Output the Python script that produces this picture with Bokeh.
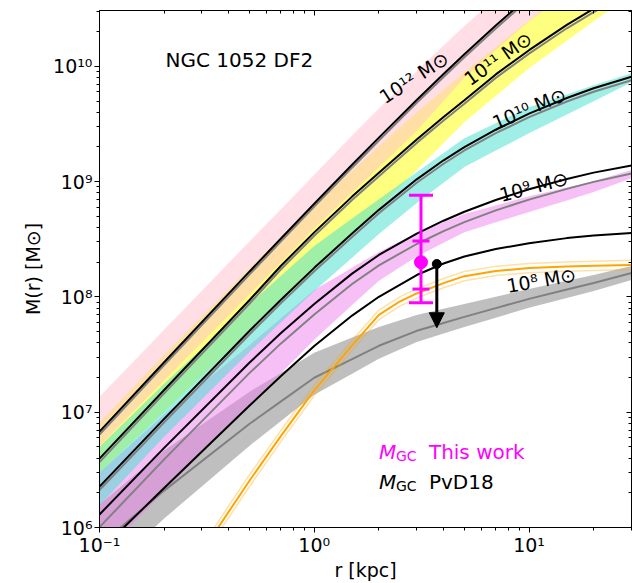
import numpy as np
from bokeh.plotting import figure
from bokeh.models import (Range1d, FixedTicker, CustomJSTickFormatter, LogAxis,
                          Label, Arrow, NormalHead)
from bokeh.embed import file_html
from bokeh.resources import INLINE

# radii (kpc)
r = [0.1, 0.2, 0.5, 0.7, 1, 1.5, 2, 3, 4, 5, 7, 10, 15, 20, 30]

# log10 M(r) of the NFW halos (black lines)
logM_1e12 = [6.831, 7.433, 8.221, 8.507, 8.808, 9.146, 9.382, 9.708, 9.933, 10.104, 10.354, 10.608, 10.881, 11.065, 11.308]
logM_1e11 = [6.597, 7.193, 7.973, 8.270, 8.560, 8.870, 9.077, 9.366, 9.561, 9.706, 9.930, 10.140, 10.360, 10.500, 10.680]
logM_1e10 = [6.355, 6.942, 7.706, 7.976, 8.252, 8.550, 8.755, 9.020, 9.185, 9.300, 9.450, 9.590, 9.725, 9.810, 9.910]
logM_1e9 = [6.113, 6.691, 7.431, 7.687, 7.938, 8.202, 8.364, 8.549, 8.661, 8.739, 8.841, 8.934, 9.022, 9.078, 9.140]
logM_1e8 = [5.795, 6.342, 7.058, 7.314, 7.574, 7.838, 8.001, 8.190, 8.290, 8.350, 8.415, 8.465, 8.510, 8.533, 8.555]

# gray companion profiles
logG_1e12 = [6.806, 7.408, 8.196, 8.482, 8.783, 9.121, 9.357, 9.683, 9.908, 10.079, 10.329, 10.583, 10.856, 11.040, 11.283]
logG_1e11 = [6.567, 7.163, 7.943, 8.240, 8.530, 8.840, 9.047, 9.336, 9.531, 9.676, 9.900, 10.110, 10.330, 10.470, 10.650]
logG_1e10 = [6.325, 6.912, 7.676, 7.946, 8.222, 8.520, 8.725, 8.990, 9.155, 9.270, 9.420, 9.560, 9.695, 9.780, 9.880]
logG_1e9 = [6.003, 6.591, 7.341, 7.597, 7.848, 8.112, 8.274, 8.459, 8.571, 8.649, 8.751, 8.844, 8.937, 8.998, 9.070]

# shaded bands (upper / lower)
pink_hi = [7.134, 7.715, 8.483, 8.760, 9.060, 9.400, 9.635, 9.960, 10.180, 10.350, 10.590, 10.830, 11.090, 11.260, 11.510]
pink_lo = [6.707, 7.275, 8.023, 8.300, 8.593, 8.904, 9.124, 9.439, 9.700, 9.900, 10.140, 10.390, 10.630, 10.800, 11.050]
yellow_hi = [6.909, 7.498, 8.251, 8.516, 8.797, 9.095, 9.307, 9.602, 9.797, 9.948, 10.166, 10.398, 10.651, 10.831, 11.074]
yellow_lo = [6.476, 7.004, 7.706, 7.962, 8.234, 8.548, 8.771, 9.100, 9.334, 9.515, 9.742, 9.983, 10.221, 10.390, 10.623]
cyan_hi = [6.701, 7.247, 7.939, 8.183, 8.442, 8.680, 8.848, 9.082, 9.248, 9.377, 9.507, 9.645, 9.756, 9.835, 9.939]
cyan_lo = [6.190, 6.788, 7.524, 7.780, 8.052, 8.340, 8.545, 8.814, 8.990, 9.126, 9.269, 9.420, 9.582, 9.697, 9.861]
violet_hi = [6.476, 6.978, 7.584, 7.815, 8.061, 8.253, 8.390, 8.554, 8.647, 8.719, 8.794, 8.874, 8.950, 9.004, 9.100]
violet_lo = [5.740, 6.312, 7.065, 7.338, 7.628, 7.930, 8.140, 8.350, 8.470, 8.560, 8.647, 8.736, 8.837, 8.909, 9.030]
gray_hi = [6.199, 6.667, 7.178, 7.341, 7.515, 7.647, 7.740, 7.844, 7.897, 7.939, 8.002, 8.069, 8.140, 8.190, 8.268]
gray_mid = [5.844, 6.320, 6.900, 7.094, 7.299, 7.461, 7.576, 7.706, 7.774, 7.827, 7.903, 7.983, 8.064, 8.121, 8.208]
gray_lo = [5.558, 6.078, 6.710, 6.924, 7.152, 7.334, 7.463, 7.610, 7.683, 7.740, 7.820, 7.905, 7.991, 8.052, 8.147]

# stellar mass profile (orange)
r_star = [0.3, 0.5, 0.7, 1, 1.5, 2, 2.5, 3, 4, 5, 7, 10, 15, 20, 30]
star_mid = [5.790, 6.408, 6.795, 7.190, 7.580, 7.845, 7.960, 8.030, 8.120, 8.180, 8.225, 8.250, 8.263, 8.270, 8.277]
star_hi = [5.840, 6.458, 6.843, 7.235, 7.622, 7.886, 8.000, 8.070, 8.160, 8.220, 8.265, 8.290, 8.303, 8.310, 8.317]
star_lo = [5.740, 6.358, 6.747, 7.145, 7.538, 7.804, 7.920, 7.990, 8.080, 8.140, 8.185, 8.210, 8.223, 8.230, 8.237]

# GC mass estimates
gc_r = 3.14
gc_M = 2.0e8
gc_err68 = (1.17e8, 3.06e8)
gc_err95 = (8.9e7, 7.6e8)
pvd_r = 3.72
pvd_M = 1.93e8
pvd_lim = 5.4e7

# ticks
x_major = [0.1, 1, 10]
x_minor = [0.2, 0.3, 0.4, 0.5, 0.6, 0.7, 0.8, 0.9, 2, 3, 4, 5, 6, 7, 8, 9, 20, 30]
y_major = [1e6, 1e7, 1e8, 1e9, 1e10]
y_minor = [m * 10.0 ** e for e in range(6, 10) for m in range(2, 10)] + [2e10, 3e10]


def lin(a):
    return [10.0 ** v for v in a]


FONT = "DejaVu Sans"

p = figure(width=632, height=583, x_axis_type="log", y_axis_type="log",
           x_range=Range1d(0.1, 30), y_range=Range1d(1e6, 3.05e10),
           output_backend="svg", toolbar_location=None,
           min_border_left=99, min_border_right=1, min_border_top=10, min_border_bottom=54)
p.grid.visible = False
p.outline_line_color = "black"
p.outline_line_width = 1

fmt = CustomJSTickFormatter(code="""
const sup = {"-":"\\u207b","0":"\\u2070","1":"\\u00b9","2":"\\u00b2","3":"\\u00b3","4":"\\u2074",
             "5":"\\u2075","6":"\\u2076","7":"\\u2077","8":"\\u2078","9":"\\u2079"};
const e = Math.round(Math.log10(tick));
const s = String(e);
let out = "10";
for (let i = 0; i < s.length; i++) { out += sup[s[i]]; }
return out;
""")

for ax, maj, mnr in ((p.xaxis[0], x_major, x_minor), (p.yaxis[0], y_major, y_minor)):
    ax.ticker = FixedTicker(ticks=maj, minor_ticks=mnr)
    ax.formatter = fmt
    ax.major_label_text_font = FONT
    ax.major_label_text_font_size = "19px"
    ax.major_label_text_color = "black"
    ax.axis_label_text_font = FONT
    ax.axis_label_text_font_size = "19px"
    ax.axis_label_text_font_style = "normal"
    ax.axis_label_text_color = "black"
    ax.major_tick_out = 5
    ax.major_tick_in = 0
    ax.minor_tick_out = 3
    ax.minor_tick_in = 0
    ax.major_label_standoff = 2
    ax.axis_label_standoff = 2

p.xaxis.major_label_standoff = 1
p.yaxis.axis_label_standoff = 6
p.xaxis.axis_label_standoff = 0
p.xaxis.axis_label = "r [kpc]"
p.yaxis.axis_label = "M(r) [M\u2299]"

top = LogAxis(ticker=FixedTicker(ticks=x_major, minor_ticks=x_minor),
              major_label_text_font_size="1px", major_label_text_alpha=0.0,
              major_tick_in=5, major_tick_out=0,
              minor_tick_in=3, minor_tick_out=0, major_label_standoff=0)
right = LogAxis(ticker=FixedTicker(ticks=y_major, minor_ticks=y_minor),
                major_label_text_font_size="1px", major_label_text_alpha=0.0,
                major_tick_in=5, major_tick_out=0,
                minor_tick_in=3, minor_tick_out=0, major_label_standoff=0)
p.add_layout(top, "above")
p.add_layout(right, "right")

# bands: drawing order chosen to reproduce the overlap colours
p.varea(x=r, y1=lin(gray_lo), y2=lin(gray_hi), fill_color="gray", fill_alpha=0.5)
p.varea(x=r, y1=lin(violet_lo), y2=lin(violet_hi), fill_color="violet", fill_alpha=0.5)
p.varea(x=r, y1=lin(yellow_lo), y2=lin(yellow_hi), fill_color="yellow", fill_alpha=0.5)
p.varea(x=r, y1=lin(cyan_lo), y2=lin(cyan_hi), fill_color="turquoise", fill_alpha=0.5)
p.varea(x=r, y1=lin(pink_lo), y2=lin(pink_hi), fill_color="pink", fill_alpha=0.5)

# gray lines
for g in (gray_mid, logG_1e9, logG_1e10, logG_1e11, logG_1e12):
    p.line(r, lin(g), line_color="gray", line_width=2)

# stellar mass
p.line(r_star, lin(star_hi), line_color="orange", line_alpha=0.35, line_width=1.5)
p.line(r_star, lin(star_lo), line_color="orange", line_alpha=0.35, line_width=1.5)
p.line(r_star, lin(star_mid), line_color="orange", line_width=2)

# NFW halos
for l in (logM_1e12, logM_1e11, logM_1e10, logM_1e9, logM_1e8):
    p.line(r, lin(l), line_color="black", line_width=2)

# GC mass estimate (this work)
p.segment(x0=[gc_r], y0=[gc_err95[0]], x1=[gc_r], y1=[gc_err95[1]], line_color="magenta", line_width=3)
p.scatter(x=[gc_r, gc_r], y=list(gc_err95), marker="dash", size=24, line_color="magenta", line_width=3)
p.scatter(x=[gc_r, gc_r], y=list(gc_err68), marker="dash", size=17, line_color="magenta", line_width=3)
p.scatter(x=[gc_r], y=[gc_M], marker="circle", size=13, fill_color="magenta", line_color="magenta")

# PvD18 upper limit
p.add_layout(Arrow(end=NormalHead(size=15, fill_color="black", line_color="black"),
                   x_start=pvd_r, y_start=pvd_M, x_end=pvd_r, y_end=pvd_lim,
                   line_color="black", line_width=3))
p.scatter(x=[pvd_r], y=[pvd_M], marker="circle", size=9, fill_color="black", line_color="black")

# curve labels
curve_labels = [
    (2.91, 8.0e9, "10\u00b9\u00b2 M\u2299", 33),
    (7.17, 1.17e10, "10\u00b9\u00b9 M\u2299", 35),
    (10.0, 4.33e9, "10\u00b9\u2070 M\u2299", 23),
    (10.5, 9.1e8, "10\u2079 M\u2299", 14.5),
    (11.4, 1.4e8, "10\u2078 M\u2299", 10),
]
for x, y, t, ang in curve_labels:
    p.add_layout(Label(x=x, y=y, text=t, angle=float(np.deg2rad(ang)), text_align="center",
                       text_baseline="middle", text_font=FONT, text_font_size="19px",
                       text_color="black"))

p.add_layout(Label(x=0.203, y=1.13e10, text="NGC 1052 DF2", text_align="left",
                   text_baseline="middle", text_font=FONT, text_font_size="20px",
                   text_color="black"))

# legend-like texts
for yb, col, txt in ((4.55e6, "magenta", "This work"), (2.5e6, "black", "PvD18")):
    p.add_layout(Label(x=2.0, y=yb, text="M", text_font=FONT, text_font_style="italic",
                       text_font_size="20px", text_color=col, text_baseline="alphabetic"))
    p.add_layout(Label(x=2.0, y=yb, x_offset=17, y_offset=-4, text="GC", text_font=FONT,
                       text_font_size="14px", text_color=col, text_baseline="alphabetic"))
    p.add_layout(Label(x=2.0, y=yb, x_offset=50, text=txt, text_font=FONT,
                       text_font_size="20px", text_color=col, text_baseline="alphabetic"))

open("out.html", "w").write(file_html(p, INLINE))
